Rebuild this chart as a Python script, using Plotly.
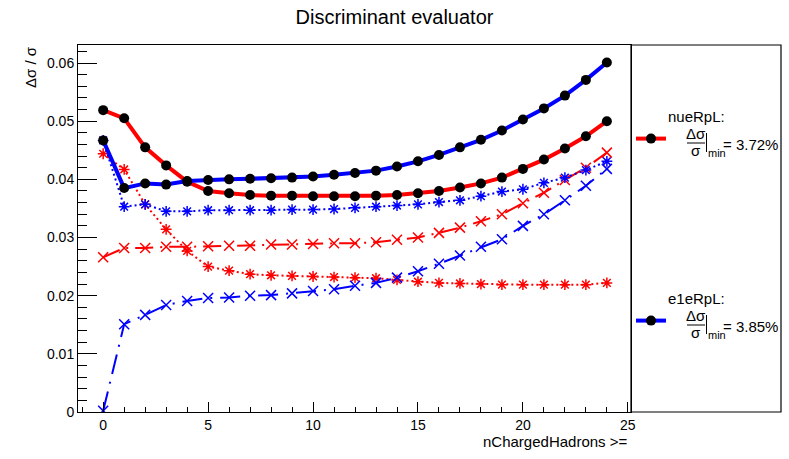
import plotly.graph_objects as go

n_charged = list(range(25))

nue_main = [0.0519, 0.0505, 0.0455, 0.0424, 0.0396, 0.0380, 0.0376, 0.0373, 0.0372, 0.0372,
            0.0371, 0.0371, 0.0371, 0.0372, 0.0373, 0.0376, 0.0380, 0.0386, 0.0393, 0.0403,
            0.0418, 0.0434, 0.0453, 0.0474, 0.0500]
e1e_main = [0.0467, 0.0385, 0.0393, 0.0391, 0.0397, 0.0399, 0.0400, 0.0401, 0.0402, 0.0403,
            0.0405, 0.0408, 0.0411, 0.0415, 0.0422, 0.0431, 0.0442, 0.0455, 0.0468, 0.0484,
            0.0503, 0.0522, 0.0544, 0.0571, 0.0601]
nue_star = [0.0444, 0.0417, 0.0357, 0.0314, 0.0277, 0.0250, 0.0243, 0.0237, 0.0235, 0.0234,
            0.0233, 0.0232, 0.0231, 0.0230, 0.0227, 0.0224, 0.0222, 0.0221, 0.0220, 0.0219,
            0.0219, 0.0219, 0.0219, 0.0219, 0.0222]
nue_x = [0.0266, 0.0282, 0.0282, 0.0284, 0.0284, 0.0285, 0.0286, 0.0286, 0.0288, 0.0288,
         0.0289, 0.0290, 0.0290, 0.0292, 0.0296, 0.0300, 0.0308, 0.0317, 0.0328, 0.0340,
         0.0359, 0.0377, 0.0399, 0.0420, 0.0446]
e1e_star = [0.0467, 0.0353, 0.0357, 0.0345, 0.0345, 0.0347, 0.0347, 0.0347, 0.0347, 0.0348,
            0.0348, 0.0349, 0.0351, 0.0353, 0.0355, 0.0357, 0.0361, 0.0364, 0.0371, 0.0379,
            0.0383, 0.0394, 0.0403, 0.0416, 0.0431]
e1e_x = [0.0002, 0.0151, 0.0167, 0.0184, 0.0191, 0.0196, 0.0197, 0.0200, 0.0201, 0.0204,
         0.0208, 0.0211, 0.0217, 0.0222, 0.0231, 0.0242, 0.0255, 0.0269, 0.0284, 0.0297,
         0.0320, 0.0340, 0.0364, 0.0389, 0.0418]

RED = "#ff0000"
BLUE = "#0000ff"
FONT = "Liberation Sans, Arial, sans-serif"

W, H = 789, 459
L, R, T, B = 78, 631, 45, 412


def px(x):
    return (x - L) / (R - L)


def py(y):
    return (B - y) / (B - T)


fig = go.Figure()

# secondary curves
fig.add_trace(go.Scatter(x=n_charged, y=nue_star, mode="lines+markers", showlegend=False,
                         line=dict(color=RED, width=2, dash="2px,3px"),
                         marker=dict(symbol="asterisk-open", size=9, color=RED, line=dict(color=RED, width=1.5))))
fig.add_trace(go.Scatter(x=n_charged, y=nue_x, mode="lines+markers", showlegend=False,
                         line=dict(color=RED, width=2, dash="18px,7px,2px,7px"),
                         marker=dict(symbol="x-thin-open", size=10, color=RED, line=dict(color=RED, width=1.5))))
fig.add_trace(go.Scatter(x=n_charged, y=e1e_star, mode="lines+markers", showlegend=False,
                         line=dict(color=BLUE, width=2, dash="2px,3px"),
                         marker=dict(symbol="asterisk-open", size=9, color=BLUE, line=dict(color=BLUE, width=1.5))))
fig.add_trace(go.Scatter(x=n_charged, y=e1e_x, mode="lines+markers", showlegend=False,
                         line=dict(color=BLUE, width=2, dash="20px,8px,2px,8px"),
                         marker=dict(symbol="x-thin-open", size=10, color=BLUE, line=dict(color=BLUE, width=1.5))))

# main curves
fig.add_trace(go.Scatter(x=n_charged, y=nue_main, mode="lines+markers", name=" ", legend="legend",
                         line=dict(color=RED, width=4),
                         marker=dict(symbol="circle", size=10, color="black")))
fig.add_trace(go.Scatter(x=n_charged, y=e1e_main, mode="lines+markers", name=" ", legend="legend2",
                         line=dict(color=BLUE, width=4),
                         marker=dict(symbol="circle", size=10, color="black")))

axis_common = dict(showgrid=False, zeroline=False, showline=True, linecolor="black", linewidth=1,
                   mirror=True, ticks="inside", tickcolor="black",
                   tickfont=dict(family=FONT, size=14, color="black"))

fig.update_xaxes(range=[-1.2, 25.15], tickvals=[0, 5, 10, 15, 20, 25], ticklen=10, tickwidth=1,
                 minor=dict(dtick=1, tick0=0, ticks="inside", ticklen=5, tickcolor="black"),
                 **axis_common)
fig.update_yaxes(range=[0, 0.0631], tickvals=[0, 0.01, 0.02, 0.03, 0.04, 0.05, 0.06],
                 ticktext=["0", "0.01", "0.02", "0.03", "0.04", "0.05", "0.06"],
                 ticklen=19, tickwidth=1,
                 minor=dict(dtick=0.002, tick0=0, ticks="inside", ticklen=9, tickcolor="black"),
                 **axis_common)

legend_common = dict(bgcolor="rgba(0,0,0,0)", borderwidth=0, xanchor="left", yanchor="middle",
                     font=dict(family=FONT, size=14, color="black"), itemwidth=30)

fig.update_layout(
    width=W, height=H,
    margin=dict(l=L, r=W - R, t=T, b=H - B, autoexpand=False),
    paper_bgcolor="white", plot_bgcolor="white",
    title=dict(text="Discriminant evaluator", x=0.5, xanchor="center", y=1 - 17 / H, yanchor="middle",
               font=dict(family=FONT, size=20, color="black")),
    legend=dict(x=px(631), y=py(139), **legend_common),
    legend2=dict(x=px(631), y=py(321), **legend_common),
)

# right-hand legend box
fig.add_shape(type="rect", xref="paper", yref="paper", x0=1, x1=px(781), y0=0, y1=1,
              line=dict(color="black", width=1.2))

ann_font = dict(family=FONT, size=15, color="black")
small_font = dict(family=FONT, size=11, color="black")

for label, val, ycen in [("nueRpL:", "3.72%", 139), ("e1eRpL:", "3.85%", 321)]:
    bar_y = ycen + 4
    fig.add_annotation(xref="paper", yref="paper", x=px(667), y=py(ycen - 22.5), text=label,
                       showarrow=False, xanchor="left", yanchor="middle", font=ann_font, borderpad=0)
    fig.add_annotation(xref="paper", yref="paper", x=px(696), y=py(bar_y - 0.5), text="Δσ",
                       showarrow=False, xanchor="center", yanchor="bottom", font=ann_font, borderpad=0)
    fig.add_annotation(xref="paper", yref="paper", x=px(696), y=py(bar_y - 2), text="σ",
                       showarrow=False, xanchor="center", yanchor="top", font=ann_font, borderpad=0)
    fig.add_shape(type="line", xref="paper", yref="paper", x0=px(687), x1=px(705),
                  y0=py(bar_y), y1=py(bar_y), line=dict(color="black", width=1))
    fig.add_shape(type="line", xref="paper", yref="paper", x0=px(706.5), x1=px(706.5),
                  y0=py(ycen - 6), y1=py(ycen + 13), line=dict(color="black", width=1))
    fig.add_annotation(xref="paper", yref="paper", x=px(707), y=py(ycen + 14), text="min",
                       showarrow=False, xanchor="left", yanchor="middle", font=small_font, borderpad=0)
    fig.add_annotation(xref="paper", yref="paper", x=px(722), y=py(ycen + 5), text="= " + val,
                       showarrow=False, xanchor="left", yanchor="middle", font=ann_font, borderpad=0)

# axis titles
fig.add_annotation(xref="paper", yref="paper", x=px(629), y=py(441), text="nChargedHadrons >=",
                   showarrow=False, xanchor="right", yanchor="middle", font=ann_font, borderpad=0)
fig.add_annotation(xref="paper", yref="paper", x=px(30), y=1, text="Δσ / σ", textangle=-90,
                   showarrow=False, xanchor="center", yanchor="top", font=ann_font, borderpad=0)

fig.write_html("out.html", config={"displayModeBar": False},
               post_script="document.body.style.margin='0';")
